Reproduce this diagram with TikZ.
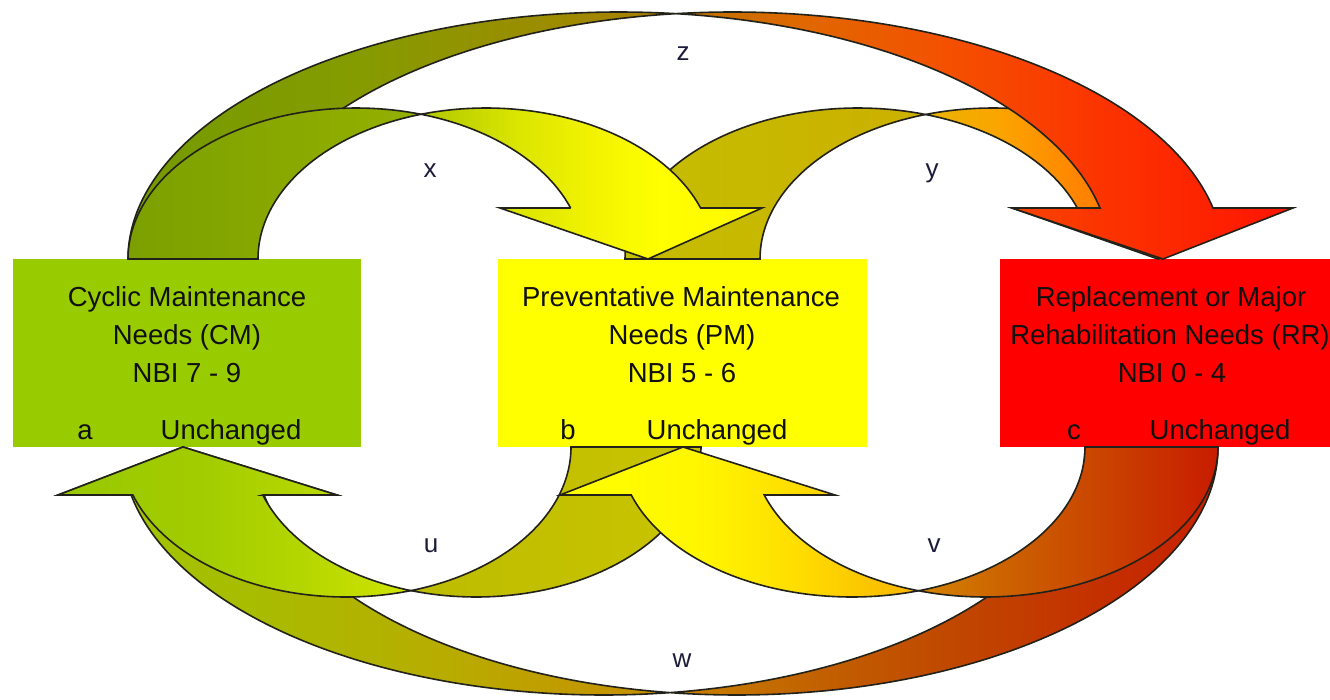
\documentclass[tikz,border=0pt]{standalone}
\usepackage{fontspec}
\setmainfont{Liberation Sans}
\definecolor{cmgreen}{HTML}{99CC00}
\definecolor{pmyellow}{HTML}{FFFF00}
\definecolor{rrred}{HTML}{FF0000}
\definecolor{labelink}{HTML}{1C1C3A}
\definecolor{boxink}{HTML}{101010}
\definecolor{edgeink}{HTML}{22221A}
% z arrow
\definecolor{zbA}{HTML}{749A00}\definecolor{zbB}{HTML}{849C00}\definecolor{zbC}{HTML}{9C8C00}\definecolor{zbD}{HTML}{AC7C00}
\definecolor{zfA}{HTML}{B87400}\definecolor{zfB}{HTML}{E06800}\definecolor{zfC}{HTML}{F45000}\definecolor{zfD}{HTML}{FC3400}\definecolor{zfE}{HTML}{FF1400}
% y arrow
\definecolor{ybA}{HTML}{C4BE00}\definecolor{ybB}{HTML}{CCB000}
\definecolor{yfA}{HTML}{E8B400}\definecolor{yfB}{HTML}{FCA400}\definecolor{yfC}{HTML}{FF8400}\definecolor{yfD}{HTML}{FF5000}
% x arrow
\definecolor{xbA}{HTML}{7CA000}\definecolor{xbB}{HTML}{94B000}
\definecolor{xfA}{HTML}{B0C800}\definecolor{xfB}{HTML}{DCE600}\definecolor{xfC}{HTML}{F4F400}\definecolor{xfD}{HTML}{FFFF00}\definecolor{xfE}{HTML}{FFF800}
% w arrow
\definecolor{wfA}{HTML}{9CC800}\definecolor{wfB}{HTML}{A8BC00}\definecolor{wfC}{HTML}{B8AC00}\definecolor{wfD}{HTML}{C88C00}
\definecolor{wbA}{HTML}{C88400}\definecolor{wbB}{HTML}{C26400}\definecolor{wbC}{HTML}{C04800}\definecolor{wbD}{HTML}{C43000}\definecolor{wbE}{HTML}{C82000}
% u arrow
\definecolor{ufA}{HTML}{98C800}\definecolor{ufB}{HTML}{A2CC00}\definecolor{ufC}{HTML}{B4D600}\definecolor{ufD}{HTML}{D0E400}
\definecolor{ubA}{HTML}{BCBC00}\definecolor{ubB}{HTML}{CAC400}
% v arrow
\definecolor{vfA}{HTML}{FFFF00}\definecolor{vfB}{HTML}{FFF600}\definecolor{vfC}{HTML}{FFDC00}\definecolor{vfD}{HTML}{F8B400}
\definecolor{vbA}{HTML}{D48400}\definecolor{vbB}{HTML}{CC6400}\definecolor{vbC}{HTML}{CA4400}\definecolor{vbD}{HTML}{C81C00}

\pgfdeclarehorizontalshading{zbackS}{100bp}{color(0bp)=(zbA); color(25bp)=(zbA); color(45.3bp)=(zbB); color(63.5bp)=(zbC); color(75bp)=(zbD); color(100bp)=(zbD)}
\pgfdeclarehorizontalshading{zfrontS}{100bp}{color(0bp)=(zfA); color(25bp)=(zfA); color(35bp)=(zfB); color(47.2bp)=(zfC); color(59.4bp)=(zfD); color(75bp)=(zfE); color(100bp)=(zfE)}
\pgfdeclarehorizontalshading{ybackS}{100bp}{color(0bp)=(ybA); color(25bp)=(ybA); color(75bp)=(ybB); color(100bp)=(ybB)}
\pgfdeclarehorizontalshading{yfrontS}{100bp}{color(0bp)=(yfA); color(25bp)=(yfA); color(35.4bp)=(yfB); color(46.7bp)=(yfC); color(75bp)=(yfD); color(100bp)=(yfD)}
\pgfdeclarehorizontalshading{xbackS}{100bp}{color(0bp)=(xbA); color(25bp)=(xbA); color(75bp)=(xbB); color(100bp)=(xbB)}
\pgfdeclarehorizontalshading{xfrontS}{100bp}{color(0bp)=(xfA); color(25bp)=(xfA); color(39.5bp)=(xfB); color(51.2bp)=(xfC); color(60bp)=(xfD); color(75bp)=(xfE); color(100bp)=(xfE)}
\pgfdeclarehorizontalshading{wfrontS}{100bp}{color(0bp)=(wfA); color(25bp)=(wfA); color(40.7bp)=(wfB); color(57bp)=(wfC); color(75bp)=(wfD); color(100bp)=(wfD)}
\pgfdeclarehorizontalshading{wbackS}{100bp}{color(0bp)=(wbA); color(25bp)=(wbA); color(36.9bp)=(wbB); color(50.5bp)=(wbC); color(64.2bp)=(wbD); color(75bp)=(wbE); color(100bp)=(wbE)}
\pgfdeclarehorizontalshading{ufrontS}{100bp}{color(0bp)=(ufA); color(25bp)=(ufA); color(45.1bp)=(ufB); color(59.3bp)=(ufC); color(75bp)=(ufD); color(100bp)=(ufD)}
\pgfdeclarehorizontalshading{ubackS}{100bp}{color(0bp)=(ubA); color(25bp)=(ubA); color(75bp)=(ubB); color(100bp)=(ubB)}
\pgfdeclarehorizontalshading{vfrontS}{100bp}{color(0bp)=(vfA); color(25bp)=(vfA); color(44.5bp)=(vfB); color(58.5bp)=(vfC); color(75bp)=(vfD); color(100bp)=(vfD)}
\pgfdeclarehorizontalshading{vbackS}{100bp}{color(0bp)=(vbA); color(25bp)=(vbA); color(38.6bp)=(vbB); color(55.3bp)=(vbC); color(75bp)=(vbD); color(100bp)=(vbD)}

\begin{document}
\begin{tikzpicture}[x=1pt,y=-1pt,
  needbox/.style={rectangle, draw=none, inner sep=0pt, minimum height=188pt},
  boxtext/.style={anchor=base, inner sep=0pt, text=boxink, font=\fontsize{27.5}{30}\selectfont},
  arclabel/.style={anchor=base, inner sep=0pt, text=labelink, font=\fontsize{26}{28}\selectfont},
  arrowedge/.style={draw=edgeink, line width=1.6pt, line join=miter}]
\useasboundingbox (0,0) rectangle (1330,699);
\fill[white] (0,0) rectangle (1330,699);

% boxes
\node[needbox, fill=cmgreen, minimum width=348pt] (cmbox) at (187,353) {};
\node[needbox, fill=pmyellow, minimum width=369pt] (pmbox) at (682.5,353) {};
\node[needbox, fill=rrred, minimum width=330pt] (rrbox) at (1165,353) {};

% ---------- top arrows ----------
% y : PM -> RR
\shadedraw[arrowedge, shading=ybackS]
  plot[domain=180:73.16, samples=60] ({858+233*cos(\x)},{259-151*sin(\x)})
  -- plot[domain=106.84:180, samples=60] ({993+233*cos(\x)},{259-151*sin(\x)}) -- cycle;
\shadedraw[arrowedge, shading=yfrontS]
  (1012,208) -- (1077.3,208)
  -- plot[domain=19.74:73.16, samples=60] ({858+233*cos(\x)},{259-151*sin(\x)})
  -- plot[domain=106.84:19.74, samples=60] ({993+233*cos(\x)},{259-151*sin(\x)})
  -- (1282,208) -- (1158,259) -- cycle;
% z : CM -> RR
\shadedraw[arrowedge, shading=zbackS]
  plot[domain=180:83.40, samples=90] ({619.3+491.3*cos(\x)},{259-247*sin(\x)})
  -- plot[domain=96.60:180, samples=90] ({732.3+491.3*cos(\x)},{259-247*sin(\x)}) -- cycle;
\shadedraw[arrowedge, shading=zfrontS]
  (1012,208) -- (1100,208)
  -- plot[domain=11.92:83.40, samples=90] ({619.3+491.3*cos(\x)},{259-247*sin(\x)})
  -- plot[domain=96.60:11.92, samples=90] ({732.3+491.3*cos(\x)},{259-247*sin(\x)})
  -- (1293,208) -- (1163,259) -- cycle;
% x : CM -> PM
\shadedraw[arrowedge, shading=xbackS]
  plot[domain=180:73.44, samples=60] ({356+228*cos(\x)},{259-151*sin(\x)})
  -- plot[domain=106.56:180, samples=60] ({486+228*cos(\x)},{259-151*sin(\x)}) -- cycle;
\shadedraw[arrowedge, shading=xfrontS]
  (500,208) -- (570.6,208)
  -- plot[domain=19.74:73.44, samples=60] ({356+228*cos(\x)},{259-151*sin(\x)})
  -- plot[domain=106.56:19.74, samples=60] ({486+228*cos(\x)},{259-151*sin(\x)})
  -- (762,208) -- (648,259) -- cycle;

% ---------- bottom arrows ----------
% w : RR -> CM
\shadedraw[arrowedge, shading=wbackS]
  plot[domain=0:97.94, samples=90] ({736.5+481.5*cos(\x)},{447+248*sin(\x)})
  -- plot[domain=82.06:0, samples=90] ({603.5+481.5*cos(\x)},{447+248*sin(\x)}) -- cycle;
\shadedraw[arrowedge, shading=wfrontS]
  (337,495) -- (264.1,495)
  -- plot[domain=168.84:97.94, samples=90] ({736.5+481.5*cos(\x)},{447+248*sin(\x)})
  -- plot[domain=82.06:168.84, samples=90] ({603.5+481.5*cos(\x)},{447+248*sin(\x)})
  -- (58,495) -- (183,447) -- cycle;
% u : PM -> CM
\shadedraw[arrowedge, shading=ubackS]
  plot[domain=0:106.79, samples=60] ({476+225*cos(\x)},{447+150*sin(\x)})
  -- plot[domain=73.21:0, samples=60] ({346+225*cos(\x)},{447+150*sin(\x)}) -- cycle;
\shadedraw[arrowedge, shading=ufrontS]
  (337,495) -- (262.8,495)
  -- plot[domain=161.34:106.79, samples=60] ({476+225*cos(\x)},{447+150*sin(\x)})
  -- plot[domain=73.21:161.34, samples=60] ({346+225*cos(\x)},{447+150*sin(\x)})
  -- (58,495) -- (183,447) -- cycle;
% v : RR -> PM
\shadedraw[arrowedge, shading=vbackS]
  plot[domain=0:106.58, samples=60] ({985+233*cos(\x)},{447+150*sin(\x)})
  -- plot[domain=73.42:0, samples=60] ({852+233*cos(\x)},{447+150*sin(\x)}) -- cycle;
\shadedraw[arrowedge, shading=vfrontS]
  (835,495) -- (764.3,495)
  -- plot[domain=161.34:106.58, samples=60] ({985+233*cos(\x)},{447+150*sin(\x)})
  -- plot[domain=73.42:161.34, samples=60] ({852+233*cos(\x)},{447+150*sin(\x)})
  -- (560,495) -- (683,447) -- cycle;

% ---------- box texts ----------
\node[boxtext] (cm1) at (187,306) {Cyclic Maintenance};
\node[boxtext] (cm2) at (187,344) {Needs (CM)};
\node[boxtext] (cm3) at (187,382) {NBI 7 - 9};
\node[boxtext] (cma) at (85,439) {a};
\node[boxtext] (cmu) at (231,439) {Unchanged};

\node[boxtext] (pm1) at (681,306) {Preventative Maintenance};
\node[boxtext] (pm2) at (682,344) {Needs (PM)};
\node[boxtext] (pm3) at (682,382) {NBI 5 - 6};
\node[boxtext] (pmb) at (568,439) {b};
\node[boxtext] (pmu) at (717,439) {Unchanged};

\node[boxtext] (rr1) at (1171,306) {Replacement or Major};
\node[boxtext] (rr2) at (1170,344) {Rehabilitation Needs (RR)};
\node[boxtext] (rr3) at (1172,382) {NBI 0 - 4};
\node[boxtext] (rrc) at (1074,439) {c};
\node[boxtext] (rru) at (1220,439) {Unchanged};

% ---------- arrow labels ----------
\node[arclabel] (lz) at (683,60) {z};
\node[arclabel] (lx) at (430,177) {x};
\node[arclabel] (ly) at (932,177) {y};
\node[arclabel] (lu) at (431,552) {u};
\node[arclabel] (lv) at (934,552) {v};
\node[arclabel] (lw) at (682,667) {w};
\end{tikzpicture}
\end{document}
